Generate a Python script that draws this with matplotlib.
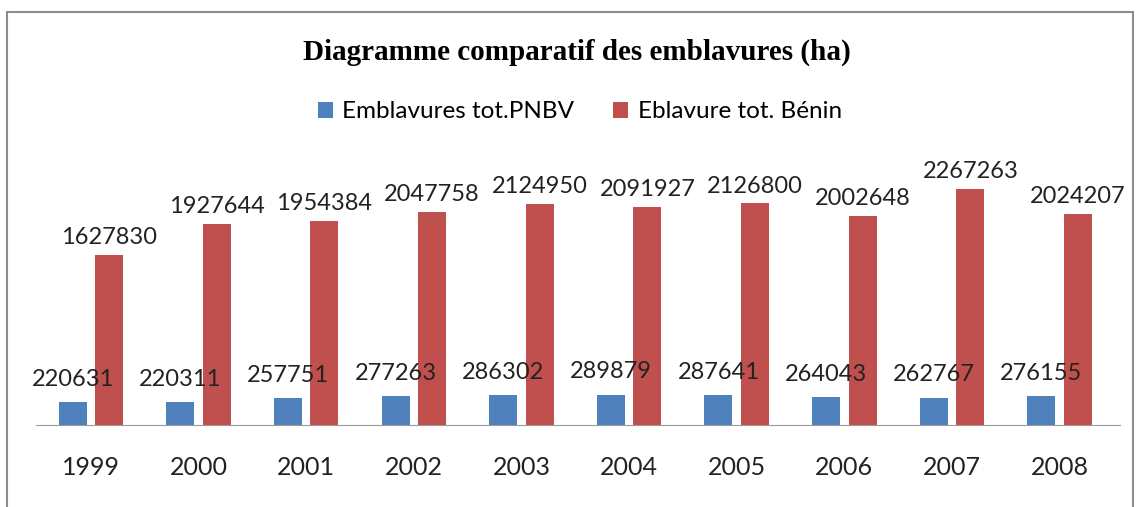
import numpy as np
import matplotlib.pyplot as plt
from matplotlib.patches import Rectangle

years = ['1999', '2000', '2001', '2002', '2003', '2004', '2005', '2006', '2007', '2008']
pnbv = [220631, 220311, 257751, 277263, 286302, 289879, 287641, 264043, 262767, 276155]
benin = [1627830, 1927644, 1954384, 2047758, 2124950, 2091927, 2126800, 2002648, 2267263, 2024207]

W, H = 1137, 507
fig = plt.figure(figsize=(W / 100, H / 100), dpi=100)
fig.patches.append(Rectangle((7 / W, -0.1), 1126 / W, 1.1 - 12 / H, transform=fig.transFigure,
                             fill=False, edgecolor='#8c8c8c', linewidth=1.5))

ax = fig.add_axes([36 / W, 82 / H, 1084 / W, 255 / H])
x = np.arange(len(years))
w = 0.26
b1 = ax.bar(x - 0.17, pnbv, w, color='#4F81BD', label='Emblavures tot.PNBV')
b2 = ax.bar(x + 0.17, benin, w, color='#C0504D', label='Eblavure tot. Bénin')

for i in range(len(years)):
    ax.annotate(str(pnbv[i]), (x[i] - 0.17, pnbv[i]), xytext=(0, 9), textcoords='offset points',
                ha='center', va='bottom', fontsize=17, family='Lato', color='#222222')
    ax.annotate(str(benin[i]), (x[i] + 0.17, benin[i]), xytext=(0, 5), textcoords='offset points',
                ha='center', va='bottom', fontsize=17, family='Lato', color='#222222')

ax.set_xlim(-0.51, 9.56)
ax.set_ylim(0, 2448000)
ax.set_xticks(x)
ax.set_xticklabels(years, fontsize=18, family='Lato', color='#222222')
ax.tick_params(axis='x', length=0, pad=22)
ax.set_yticks([])
for s in ['left', 'right', 'top']:
    ax.spines[s].set_visible(False)
ax.spines['bottom'].set_color('#9a9a9a')

fig.text(577 / W, 1 - 52 / H, 'Diagramme comparatif des emblavures (ha)', ha='center', va='center',
         fontsize=21, fontweight='bold', family='Liberation Serif')
fig.legend(handles=[b1, b2], loc='center', bbox_to_anchor=(580 / W, 1 - 112 / H), ncol=2, frameon=False,
           prop={'family': 'Lato', 'size': 17.5}, handlelength=0.6, handleheight=0.6, columnspacing=1.6,
           handletextpad=0.4)

plt.savefig('out.png', dpi=100)
